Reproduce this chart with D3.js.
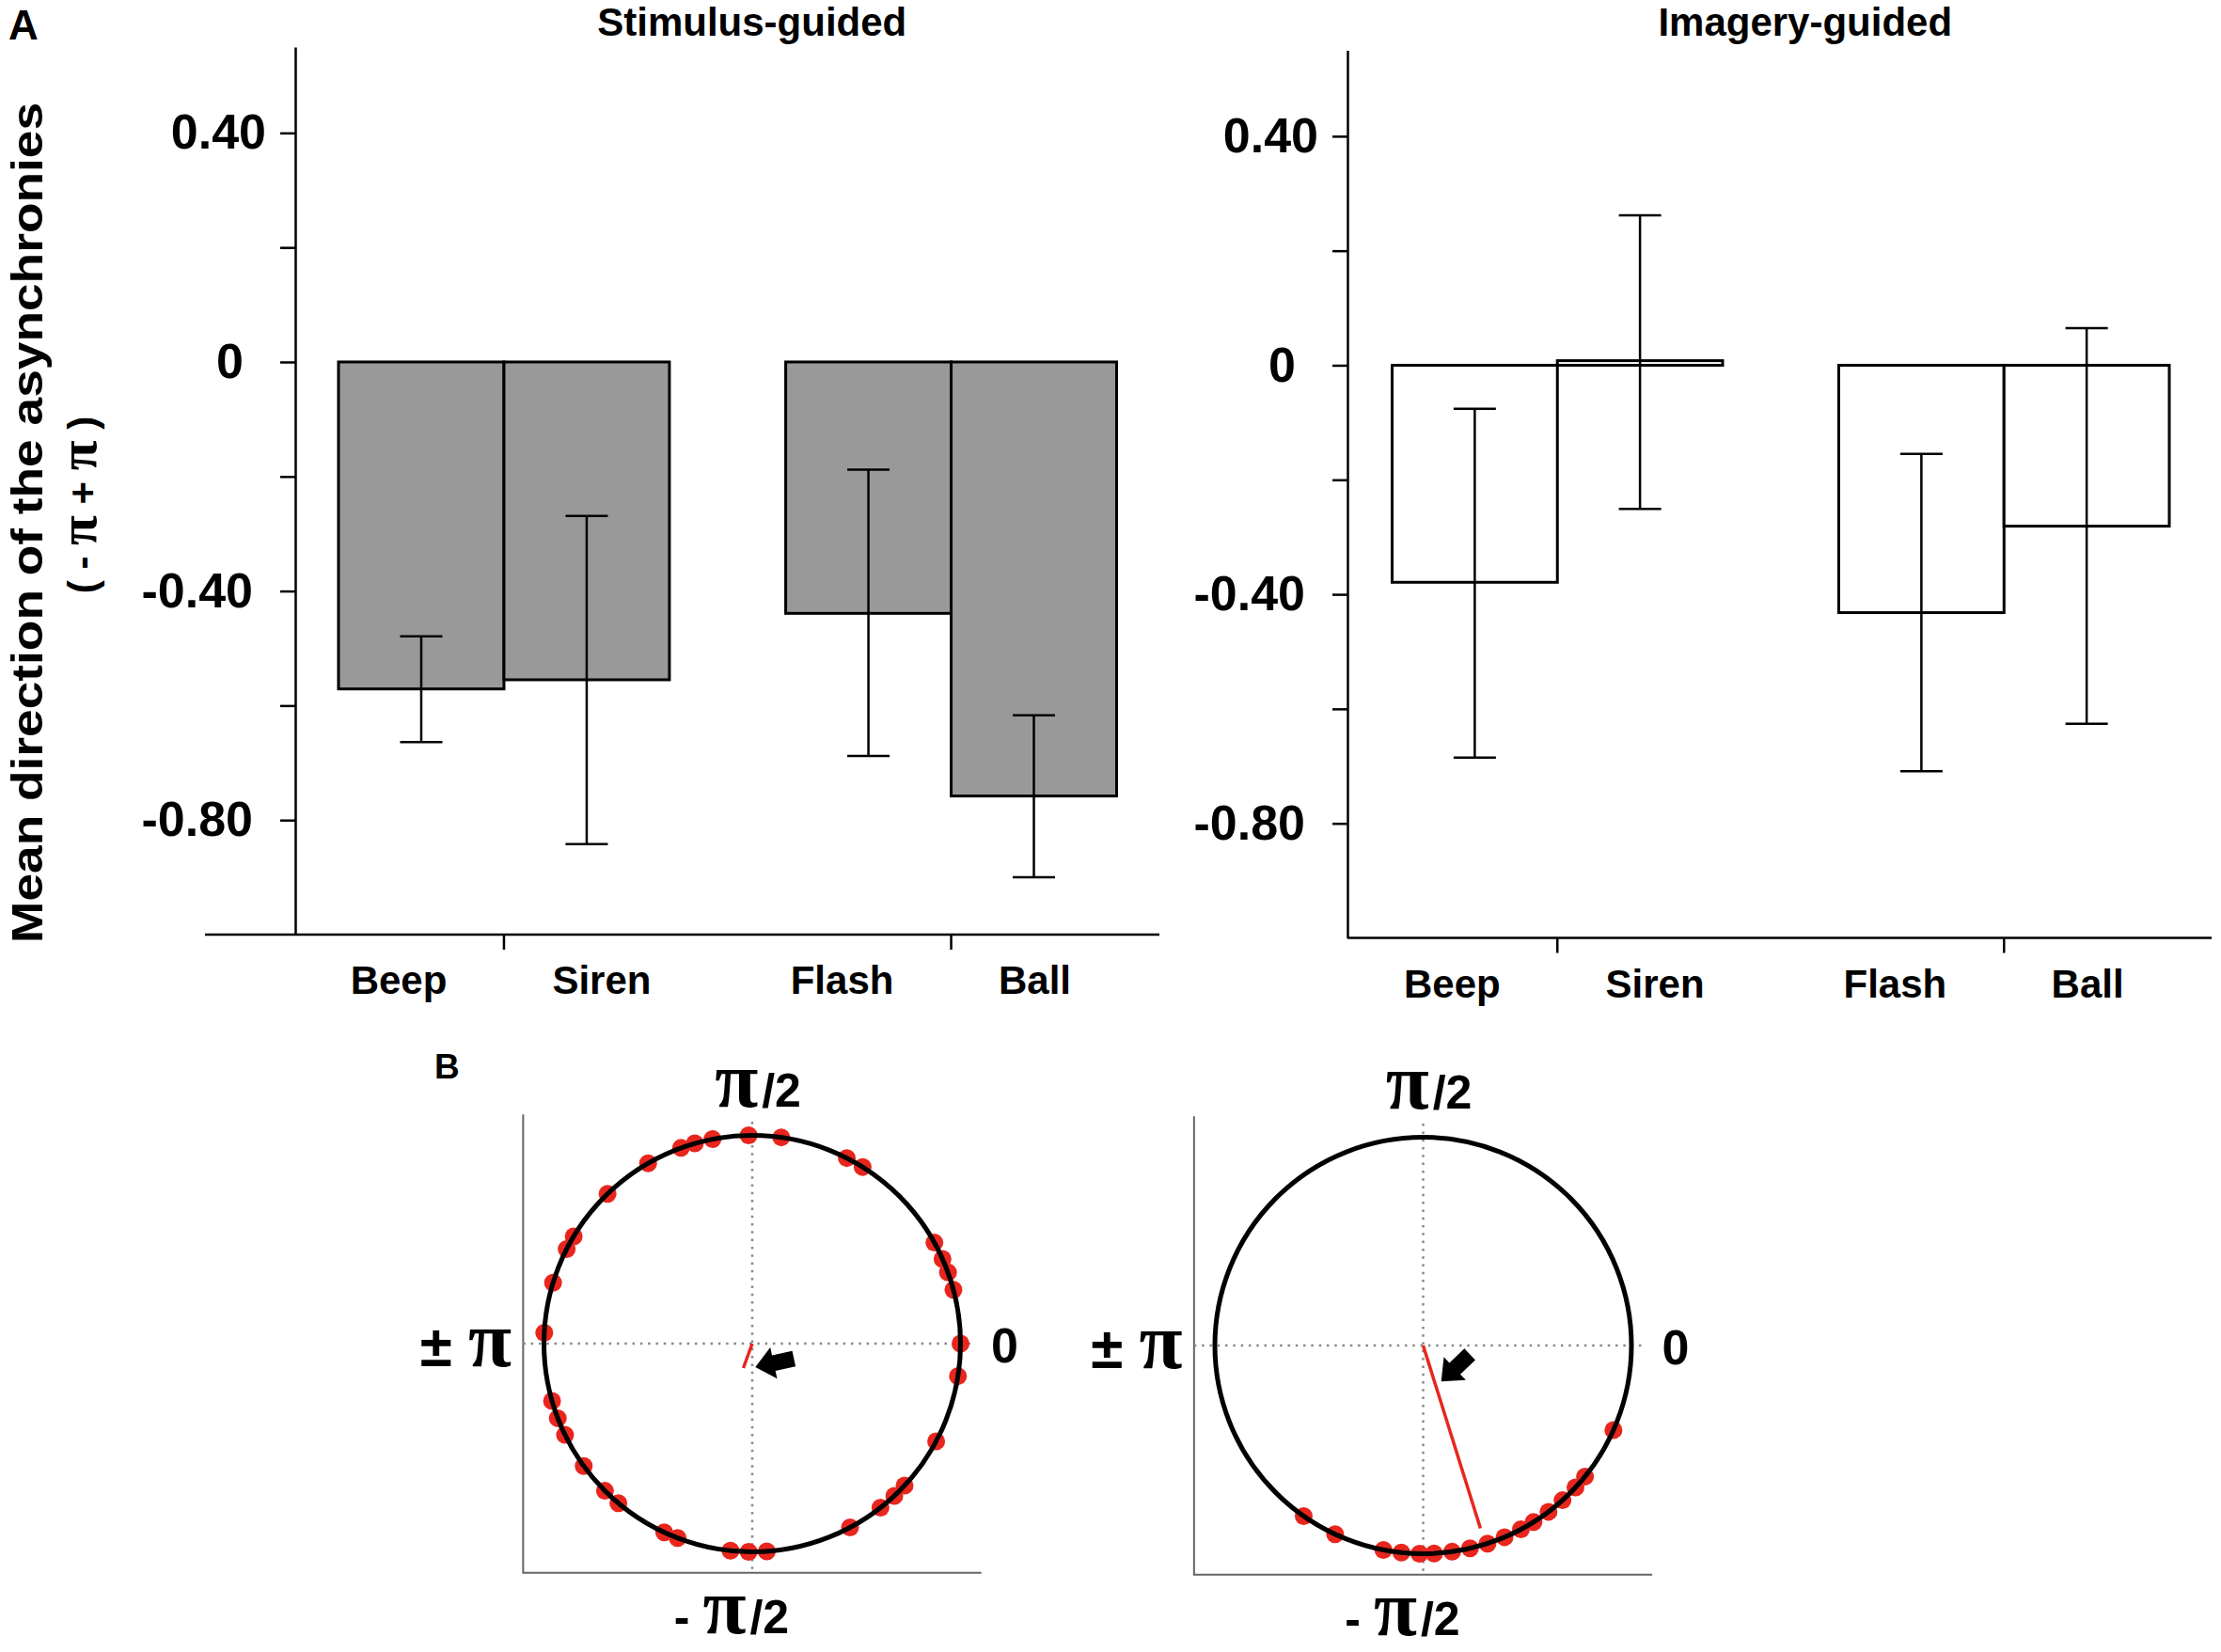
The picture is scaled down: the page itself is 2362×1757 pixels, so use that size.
<!DOCTYPE html>
<html><head><meta charset="utf-8">
<script src="https://cdn.jsdelivr.net/npm/d3@7"></script>
<style>
html,body{margin:0;padding:0;background:#fff;}
svg{display:block;font-family:"Liberation Sans",Arial,sans-serif;}
</style>
</head><body>
<svg id="chart" width="2362" height="1757"></svg>
<script>
// ---------------- data ----------------
const conditions = ["Beep", "Siren", "Flash", "Ball"];
const modality = ["Auditory", "Auditory", "Visual", "Visual"];
const panelTitles = ["Stimulus-guided", "Imagery-guided"];

const stimulusMean = [-0.571, -0.555, -0.439, -0.758];
const stimulusLow  = [-0.664, -0.842, -0.688, -0.900];
const stimulusHigh = [-0.479, -0.269, -0.188, -0.617];

const imageryMean = [-0.379, 0.008, -0.432, -0.281];
const imageryLow  = [-0.685, -0.251, -0.709, -0.626];
const imageryHigh = [-0.076, 0.262, -0.155, 0.065];

const yTickValues = [0.4, 0.2, 0, -0.2, -0.4, -0.6, -0.8];
const yTickLabels = ["0.40", "", "0", "", "-0.40", "", "-0.80"];
const yDomain = [-1, 0.55];

// panel B: individual phases (degrees, 0 = right, 90 = top)
const stimulusPhases = [91, 82, 63, 58, 29, 24, 20, 15, 0, -9, -28, -43, -47, -52, -62,
  -86, -91, -96, -111, -115, -130, -135, -144, -154, -159, -164, 177, 163, 153, 149,
  134, 120, 110, 106, 101];
const imageryPhases = [-125, -115, -101, -96, -91, -87, -82, -77, -72, -67, -62, -58,
  -53, -48, -43, -39, -24];
const meanVectorAngle = [-110, -72.6];   // degrees
const meanVectorLength = [0.125, 0.92];  // resultant length R
const circleLabels = ["π/2", "0", "± π", "- π/2"];

// ---------------- drawing ----------------
const svg = d3.select("#chart");
const BOLD = "bold";
const black = "#000";
const red = "#e8261e";

// write a label, rendering π in a larger serif (Symbol-like) glyph
function richText(sel, txt, piSize, gap) {
  txt.split(/(π)/).filter(s => s.length).forEach((part, k) => {
    const t = sel.append("tspan").text(part);
    if (part === "π") t.attr("font-family", "Liberation Serif, DejaVu Serif, serif")
      .attr("font-size", piSize).attr("font-weight", "bold");
    else if (k > 0 && gap) t.attr("dx", gap);
  });
  return sel;
}

const panels = [
  {title: panelTitles[0], mean: stimulusMean, low: stimulusLow, high: stimulusHigh,
   fill: "#999999", axisX: 314, barL: 360, barR: 1187.5, xAxisL: 218, xAxisR: 1233,
   yBottom: 994, yTop: 50},
  {title: panelTitles[1], mean: imageryMean, low: imageryLow, high: imageryHigh,
   fill: "#ffffff", axisX: 1433, barL: 1480.5, barR: 2307, xAxisL: 1433, xAxisR: 2352,
   yBottom: 997.5, yTop: 53.5}
];
const labelNudge = [-24, 16, -28, 1];
const tickNudge = {"0.40": 0, "0": -24, "-0.40": -14, "-0.80": -14};

panels.forEach((p, pi) => {
  const g = svg.append("g");
  const y = d3.scaleLinear().domain(yDomain).range([p.yBottom, p.yTop]);
  const xOuter = d3.scaleBand().domain(["Auditory", "Visual"]).range([p.barL, p.barR])
    .paddingInner(0.26).paddingOuter(0);
  const xInner = d3.scaleBand().domain([0, 1]).range([0, xOuter.bandwidth()]).padding(0);
  const within = conditions.map((c, i) => modality.slice(0, i).filter(m => m === modality[i]).length);
  const bx = i => xOuter(modality[i]) + xInner(within[i]);
  const bw = xInner.bandwidth();

  // bars
  g.selectAll("rect.bar").data(p.mean).join("rect")
    .attr("x", (d, i) => bx(i))
    .attr("y", d => y(Math.max(0, d)))
    .attr("width", bw)
    .attr("height", d => Math.abs(y(d) - y(0)))
    .attr("fill", p.fill).attr("stroke", black).attr("stroke-width", 3);

  // error bars
  const capHalf = 22.5;
  const eb = g.selectAll("g.err").data(p.mean).join("g");
  eb.append("line")
    .attr("x1", (d, i) => bx(i) + bw / 2).attr("x2", (d, i) => bx(i) + bw / 2)
    .attr("y1", (d, i) => y(p.low[i])).attr("y2", (d, i) => y(p.high[i]))
    .attr("stroke", black).attr("stroke-width", 2.5);
  eb.append("line")
    .attr("x1", (d, i) => bx(i) + bw / 2 - capHalf).attr("x2", (d, i) => bx(i) + bw / 2 + capHalf)
    .attr("y1", (d, i) => y(p.low[i])).attr("y2", (d, i) => y(p.low[i]))
    .attr("stroke", black).attr("stroke-width", 2.5);
  eb.append("line")
    .attr("x1", (d, i) => bx(i) + bw / 2 - capHalf).attr("x2", (d, i) => bx(i) + bw / 2 + capHalf)
    .attr("y1", (d, i) => y(p.high[i])).attr("y2", (d, i) => y(p.high[i]))
    .attr("stroke", black).attr("stroke-width", 2.5);

  // y axis
  const yAxis = d3.axisLeft(y).tickValues(yTickValues).tickSize(16).tickSizeOuter(0)
    .tickPadding(15).tickFormat((d, i) => yTickLabels[i]);
  const ya = g.append("g").attr("transform", `translate(${p.axisX},0)`).call(yAxis);
  ya.select(".domain").attr("stroke", black).attr("stroke-width", 2.5);
  ya.selectAll(".tick line").attr("stroke", black).attr("stroke-width", 2.5);
  ya.selectAll(".tick text").attr("font-size", 52).attr("font-weight", BOLD)
    .attr("font-family", "Liberation Sans, Arial, sans-serif").attr("fill", black)
    .attr("dx", function () { return tickNudge[this.textContent] || 0; });

  // x axis
  g.append("line").attr("x1", p.xAxisL).attr("x2", p.xAxisR)
    .attr("y1", y(yDomain[0])).attr("y2", y(yDomain[0]))
    .attr("stroke", black).attr("stroke-width", 2.5);
  const xa = g.append("g").attr("transform", `translate(0,${y(yDomain[0])})`)
    .call(d3.axisBottom(xOuter).tickSize(16).tickFormat(""));
  xa.select(".domain").remove();
  xa.selectAll(".tick line").attr("stroke", black).attr("stroke-width", 2.5);

  // category labels
  g.selectAll("text.cat").data(conditions).join("text")
    .attr("x", (d, i) => bx(i) + bw / 2 + labelNudge[i])
    .attr("y", y(yDomain[0]) + 63)
    .attr("text-anchor", "middle").attr("font-size", 42).attr("font-weight", BOLD)
    .text(d => d);

  // title
  g.append("text").attr("x", (p.barL + p.barR) / 2 + 26).attr("y", 38)
    .attr("text-anchor", "middle").attr("font-size", 42).attr("font-weight", BOLD)
    .text(p.title);
});

// panel A decorations
svg.append("text").attr("x", 9).attr("y", 42).attr("font-size", 44).attr("font-weight", BOLD).text("A");
svg.append("text").attr("transform", "translate(45,556) rotate(-90)")
  .attr("text-anchor", "middle").attr("font-size", 46).attr("font-weight", BOLD)
  .attr("textLength", 894).attr("lengthAdjust", "spacingAndGlyphs")
  .text("Mean direction of the asynchronies");
richText(svg.append("text").attr("transform", "translate(102,537) rotate(-90)")
  .attr("text-anchor", "middle").attr("font-size", 42).attr("font-weight", BOLD),
  "( - π + π )", 58, 0);

// ---------------- panel B ----------------
svg.append("text").attr("x", 462).attr("y", 1147).attr("font-size", 37).attr("font-weight", BOLD).text("B");

const circlePanels = [
  {phases: stimulusPhases, cx: 800, cy: 1429, arrowTip: [3.3, 25], arrowDir: 167.6},
  {phases: imageryPhases, cx: 1513.5, cy: 1431, arrowTip: [19.2, 38.3], arrowDir: 136.5}
];
const R = 221.5;

circlePanels.forEach((c, ci) => {
  const g = svg.append("g");
  const sx = d3.scaleLinear().domain([-1, 1]).range([c.cx - R, c.cx + R]);
  const sy = d3.scaleLinear().domain([-1, 1]).range([c.cy + R, c.cy - R]);
  const rad = d => d * Math.PI / 180;

  // frame (left and bottom)
  g.append("path")
    .attr("d", `M${sx(-1.1)},${sy(1.1)}V${sy(-1.1)}H${sx(1.1)}`)
    .attr("fill", "none").attr("stroke", "#666").attr("stroke-width", 2);
  // dotted cross
  g.append("line").attr("x1", sx(-1.1)).attr("x2", sx(1.06)).attr("y1", sy(0)).attr("y2", sy(0))
    .attr("stroke", "#888").attr("stroke-width", 2.5).attr("stroke-dasharray", "2.5 5.8");
  g.append("line").attr("x1", sx(0)).attr("x2", sx(0)).attr("y1", sy(1.065)).attr("y2", sy(-1.1))
    .attr("stroke", "#888").attr("stroke-width", 2.5).attr("stroke-dasharray", "2.5 5.8");

  // individual phases
  g.selectAll("circle.pt").data(c.phases).join("circle")
    .attr("cx", d => sx(Math.cos(rad(d))))
    .attr("cy", d => sy(Math.sin(rad(d))))
    .attr("r", 9.5).attr("fill", red);

  // unit circle
  g.append("circle").attr("cx", sx(0)).attr("cy", sy(0)).attr("r", sx(1) - sx(0))
    .attr("fill", "none").attr("stroke", black).attr("stroke-width", 5);

  // mean vector
  const a = rad(meanVectorAngle[ci]), L = meanVectorLength[ci];
  g.append("line").attr("x1", sx(0)).attr("y1", sy(0))
    .attr("x2", sx(L * Math.cos(a))).attr("y2", sy(L * Math.sin(a)))
    .attr("stroke", red).attr("stroke-width", 3.5);

  // arrow annotation
  g.append("path")
    .attr("d", "M0,0L-20,-17L-20,-8.4L-42,-8.4L-42,8.4L-20,8.4L-20,17Z")
    .attr("fill", black)
    .attr("transform", `translate(${c.cx + c.arrowTip[0]},${c.cy + c.arrowTip[1]}) rotate(${c.arrowDir})`);

  // labels
  const lab = (txt, x, yy, anchor, size, piSize, gap) => richText(g.append("text").attr("x", x).attr("y", yy)
    .attr("text-anchor", anchor).attr("font-size", size).attr("font-weight", BOLD), txt, piSize, gap);
  lab(circleLabels[0], sx(0) + 6, sy(0) - 252, "middle", 50, 84, 4);
  lab(circleLabels[1], sx(0) + 254, sy(0) + 20, "start", 52, 84, 0);
  lab(circleLabels[2], sx(0) - 256, sy(0) + 24, "end", 62, 84, 0);
  lab(circleLabels[3], sx(0) - 22, sy(0) + 308, "middle", 50, 84, 4);
});
</script>
</body></html>
